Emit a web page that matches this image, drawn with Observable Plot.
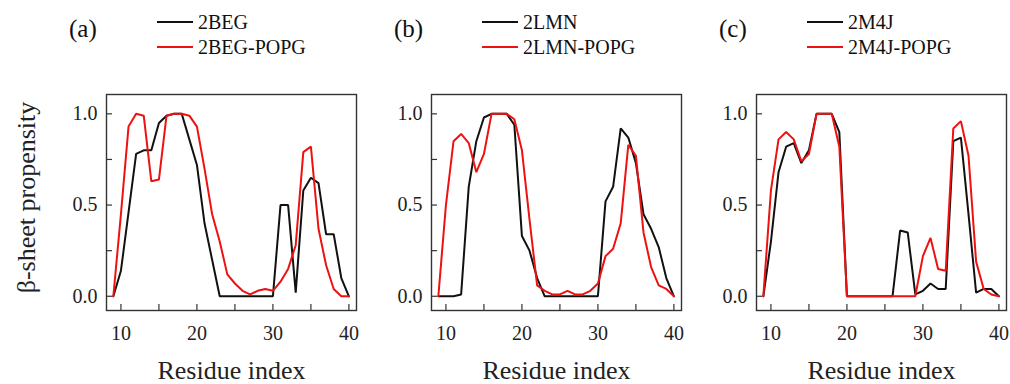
<!DOCTYPE html>
<html>
<head>
<meta charset="utf-8">
<script src="https://cdn.jsdelivr.net/npm/d3@7"></script>
<script src="https://cdn.jsdelivr.net/npm/@observablehq/plot@0.6"></script>
<style>
  html, body { margin: 0; padding: 0; background: #fff; }
  #wrap { position: relative; width: 1010px; height: 384px; font-family: "Liberation Serif", "Times New Roman", serif; color: #111; }
  .panel { position: absolute; top: 0; width: 360px; height: 384px; }
  .panel svg { position: absolute; left: 0; top: 0; overflow: visible; }
  .tag { position: absolute; left: 69px; top: 16px; font-size: 25px; line-height: 1; }
  .leg { position: absolute; left: 157px; font-size: 20px; line-height: 1; display: flex; align-items: center; white-space: nowrap; }
  .leg i { display: inline-block; width: 36px; height: 0; border-top: 2px solid; margin-right: 5px; }
</style>
</head>
<body>
<div id="wrap"></div>
<script>
const residues = [9,10,11,12,13,14,15,16,17,18,19,20,21,22,23,24,25,26,27,28,29,30,31,32,33,34,35,36,37,38,39,40];

const panelTags = ["(a)", "(b)", "(c)"];
const seriesNames = [["2BEG", "2BEG-POPG"], ["2LMN", "2LMN-POPG"], ["2M4J", "2M4J-POPG"]];

const val2BEG      = [0,0.14,0.46,0.78,0.80,0.80,0.95,0.99,1.0,1.0,0.86,0.72,0.40,0.20,0,0,0,0,0,0,0,0,0.5,0.5,0.02,0.58,0.65,0.62,0.34,0.34,0.10,0];
const val2BEGPOPG  = [0,0.45,0.93,1.0,0.99,0.63,0.64,0.99,1.0,1.0,0.99,0.93,0.70,0.45,0.30,0.12,0.07,0.03,0.01,0.03,0.04,0.03,0.08,0.15,0.28,0.79,0.82,0.37,0.17,0.04,0,0];
const val2LMN      = [0,0,0,0.01,0.6,0.85,0.98,1,1,1,0.94,0.33,0.25,0.10,0,0,0,0,0,0,0,0,0.52,0.6,0.92,0.87,0.73,0.45,0.37,0.27,0.10,0];
const val2LMNPOPG  = [0,0.5,0.85,0.89,0.84,0.68,0.78,1,1,1,0.97,0.8,0.42,0.06,0.03,0.01,0.01,0.03,0.01,0.01,0.03,0.07,0.22,0.26,0.4,0.83,0.77,0.35,0.16,0.06,0.04,0];
const val2M4J      = [0,0.3,0.68,0.82,0.84,0.73,0.8,1,1,1,0.9,0,0,0,0,0,0,0,0.36,0.35,0.01,0.03,0.07,0.04,0.04,0.85,0.87,0.45,0.02,0.04,0.04,0];
const val2M4JPOPG  = [0,0.58,0.86,0.9,0.86,0.74,0.78,1,1,1,0.82,0,0,0,0,0,0,0,0,0,0,0.22,0.32,0.15,0.14,0.92,0.96,0.77,0.19,0.04,0.01,0];

const panelValues = [[val2BEG, val2BEGPOPG], [val2LMN, val2LMNPOPG], [val2M4J, val2M4JPOPG]];

const xTicks = [10,15,20,25,30,35,40];
const xTickLabels = [10,20,30,40];
const yTicks = [0,0.25,0.5,0.75,1.0];
const yTickLabels = [0,0.5,1.0];
const xLabel = "Residue index";
const yLabel = "β-sheet propensity";
const colors = ["#111111", "#ee1111"];

const wrap = document.getElementById("wrap");

panelValues.forEach((vals, p) => {
  const panel = document.createElement("div");
  panel.className = "panel";
  panel.style.left = (p * 325) + "px";
  wrap.appendChild(panel);

  const rows = [];
  vals.forEach((arr, s) => arr.forEach((v, i) => rows.push({residue: residues[i], value: v, series: seriesNames[p][s]})));

  const marks = [
    Plot.frame({stroke: "#333", strokeWidth: 1.4}),
    Plot.tickX(xTicks, {x: d => d, insetTop: 210, stroke: "#333", strokeWidth: 1.2}),
    Plot.axisX(xTickLabels, {tickSize: 0, tickPadding: 15, fontSize: 20, tickFormat: d => String(d), fill: "#222"}),
    Plot.tickY(yTicks, {y: d => d, insetRight: 244, stroke: "#333", strokeWidth: 1.2}),
    Plot.axisY(yTickLabels, {tickSize: 0, tickPadding: 9, fontSize: 20, tickFormat: d3.format(".1f"), fill: "#222"}),
    Plot.line(rows, {x: "residue", y: "value", z: "series", stroke: "series", strokeWidth: 2, strokeLinejoin: "miter"}),
    Plot.text([xLabel], {frameAnchor: "bottom", dy: 60, fontSize: 26, lineAnchor: "middle", fill: "#222"})
  ];
  if (p === 0) {
    marks.push(Plot.text([yLabel], {frameAnchor: "left", dx: -80, dy: -5, rotate: -90, textAnchor: "middle", lineAnchor: "middle", fontSize: 26, fill: "#222"}));
  }

  const svg = Plot.plot({
    width: 360,
    height: 384,
    marginLeft: 106,
    marginRight: 4,
    marginTop: 94,
    marginBottom: 74,
    style: {background: "transparent", fontFamily: "Liberation Serif, Times New Roman, serif", overflow: "visible"},
    x: {domain: [8.1, 41.0], label: null, axis: null},
    y: {domain: [-0.078, 1.106], label: null, axis: null},
    color: {domain: seriesNames[p], range: colors},
    marks
  });
  panel.appendChild(svg);

  const tag = document.createElement("div");
  tag.className = "tag";
  tag.textContent = panelTags[p];
  panel.appendChild(tag);

  seriesNames[p].forEach((name, s) => {
    const leg = document.createElement("div");
    leg.className = "leg";
    leg.style.top = (s === 0 ? 12 : 37) + "px";
    const sw = document.createElement("i");
    sw.style.borderTopColor = colors[s];
    leg.appendChild(sw);
    leg.appendChild(document.createTextNode(name));
    panel.appendChild(leg);
  });
});
</script>
</body>
</html>
